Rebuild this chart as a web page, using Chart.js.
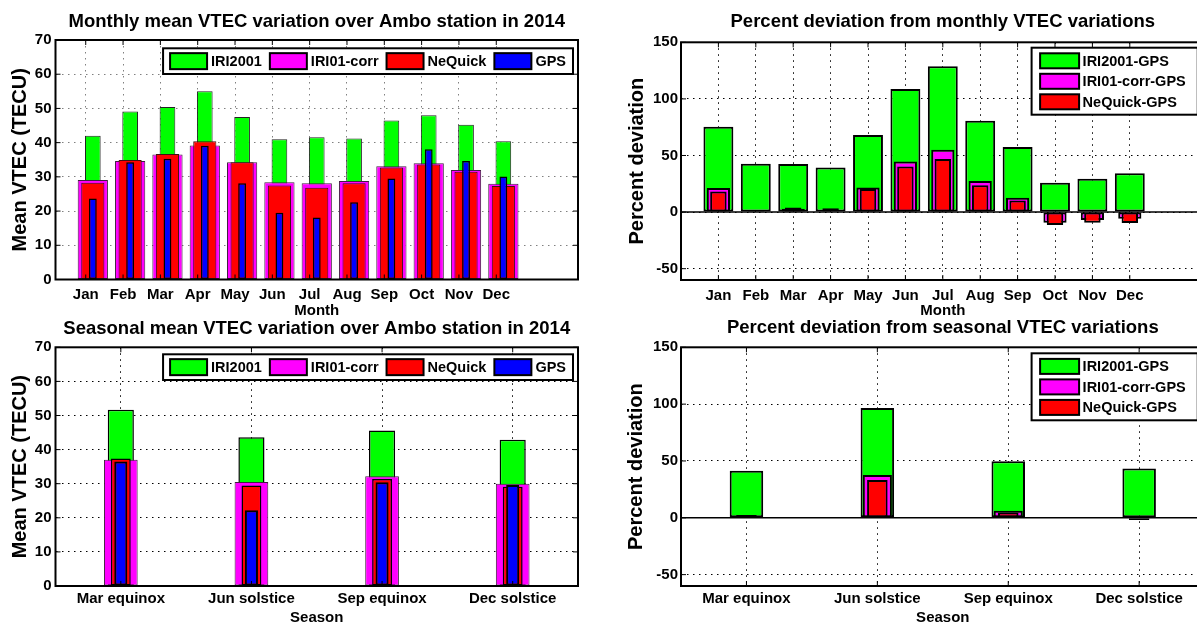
<!DOCTYPE html>
<html>
<head>
<meta charset="utf-8">
<title>VTEC over Ambo station, 2014</title>
<script src="https://cdn.jsdelivr.net/npm/chart.js@4.4.1/dist/chart.umd.min.js"></script>
<style>
  html, body { margin: 0; padding: 0; background: #fff; width: 1197px; height: 627px; overflow: hidden; position: relative; }
  canvas { position: absolute; display: block; }
</style>
</head>
<body>
<canvas id="monthlyVtec" width="582" height="322" style="left:0;top:0;width:582px;height:322px"></canvas>
<canvas id="monthlyDev" width="610" height="322" style="left:600px;top:0;width:610px;height:322px"></canvas>
<canvas id="seasonalVtec" width="582" height="327" style="left:0;top:300px;width:582px;height:327px"></canvas>
<canvas id="seasonalDev" width="610" height="327" style="left:600px;top:300px;width:610px;height:327px"></canvas>
<script>
// ---- categories and tick labels ----
const MONTHS = ['Jan', 'Feb', 'Mar', 'Apr', 'May', 'Jun', 'Jul', 'Aug', 'Sep', 'Oct', 'Nov', 'Dec'];
const SEASONS = ['Mar equinox', 'Jun solstice', 'Sep equinox', 'Dec solstice'];
const VTEC_TICKS = [0, 10, 20, 30, 40, 50, 60, 70];
const DEV_TICKS = [-50, 0, 50, 100, 150];

// ---- monthly mean VTEC (TECU) ----
const monthlyIri2001   = [42.0, 49.1, 50.4, 55.0, 47.5, 41.0, 41.6, 41.2, 46.5, 48.0, 45.2, 40.4];
const monthlyIri01corr = [29.1, 34.6, 36.5, 39.2, 34.3, 28.4, 28.1, 28.8, 33.1, 34.0, 32.0, 28.0];
const monthlyNeQuick   = [28.3, 34.9, 36.7, 40.4, 34.3, 27.5, 26.8, 28.1, 32.7, 33.6, 31.5, 27.3];
const monthlyGps       = [23.7, 34.3, 35.3, 39.1, 28.1, 19.5, 18.1, 22.6, 29.5, 38.1, 34.6, 30.1];

// ---- monthly percent deviation of each model from GPS ----
const devMonthlyIri2001   = [75.3, 42.6, 42.4, 39.4, 68.2, 108.8, 128.8, 80.6, 57.4, 25.9, 29.4, 34.4];
const devMonthlyIri01corr = [21.2, 0.5, 3.0, 0.3, 21.8, 44.7, 55.0, 27.4, 12.7, -9.4, -7.1, -5.9];
const devMonthlyNeQuick   = [18.2, 1.5, 4.0, 3.3, 20.3, 40.3, 46.8, 23.8, 10.3, -11.5, -9.4, -9.7];

// ---- seasonal mean VTEC (TECU) ----
const seasonalIri2001   = [51.7, 43.6, 45.6, 42.9];
const seasonalIri01corr = [37.0, 30.5, 32.2, 30.0];
const seasonalNeQuick   = [37.4, 29.5, 31.4, 29.1];
const seasonalGps       = [36.5, 22.2, 30.4, 29.6];

// ---- seasonal percent deviation of each model from GPS ----
const devSeasonalIri2001   = [41.5, 96.5, 49.7, 43.3];
const devSeasonalIri01corr = [1.4, 37.7, 6.1, 0.5];
const devSeasonalNeQuick   = [2.5, 33.3, 4.7, -2.0];

// ---- styling ----
const FONT = "'Liberation Sans', Arial, Helvetica, sans-serif";
const GREEN = '#00ff00', MAGENTA = '#ff00ff', RED = '#ff0000', BLUE = '#0000ff';

Chart.defaults.font.family = FONT;
Chart.defaults.font.weight = 'bold';
Chart.defaults.color = '#000';

// One bar series; bars of all series share the same slot (overlaid, not grouped).
function barSeries(label, values, color, width, order, borderWidth, borderColor) {
  return {
    label,
    data: values.map((v, i) => ({ x: i + 1, y: v })),
    backgroundColor: color,
    borderColor: borderColor || '#000',
    borderWidth,
    borderSkipped: false,
    grouped: false,
    categoryPercentage: 1,
    barPercentage: width,
    order
  };
}

// Axes box, inward tick marks, zero baseline, title and an in-plot legend.
const matlabAxes = {
  id: 'matlabAxes',
  afterDatasetsDraw(chart, args, o) {
    const { ctx, chartArea: a, scales } = chart;
    ctx.save();
    if (o.baseline) {
      const y0 = scales.y.getPixelForValue(0);
      ctx.strokeStyle = '#000';
      ctx.lineWidth = 1.5;
      ctx.beginPath();
      ctx.moveTo(a.left, y0);
      ctx.lineTo(a.right, y0);
      ctx.stroke();
    }
    ctx.strokeStyle = '#000';
    ctx.lineWidth = 1;
    const tl = 5;
    ctx.beginPath();
    scales.x.ticks.forEach(t => {
      const x = scales.x.getPixelForValue(t.value);
      ctx.moveTo(x, a.bottom); ctx.lineTo(x, a.bottom - tl);
      ctx.moveTo(x, a.top); ctx.lineTo(x, a.top + tl);
    });
    scales.y.ticks.forEach(t => {
      const y = scales.y.getPixelForValue(t.value);
      ctx.moveTo(a.left, y); ctx.lineTo(a.left + tl, y);
      ctx.moveTo(a.right, y); ctx.lineTo(a.right - tl, y);
    });
    ctx.stroke();
    ctx.lineWidth = 2;
    ctx.strokeRect(a.left, a.top, a.right - a.left, a.bottom - a.top);
    ctx.restore();
  },
  afterDraw(chart, args, o) {
    const { ctx, chartArea: a } = chart;
    ctx.save();
    ctx.fillStyle = '#000';
    ctx.font = `bold ${o.titleSize}px ${FONT}`;
    ctx.textAlign = 'center';
    ctx.textBaseline = 'alphabetic';
    ctx.fillText(o.title, (a.left + a.right) / 2, o.titleBaseline);

    const items = chart.data.datasets.map(d => ({ text: d.label, color: d.backgroundColor }));
    ctx.font = `bold ${o.legendSize}px ${FONT}`;
    const widths = items.map(it => ctx.measureText(it.text).width);
    ctx.lineWidth = 2;
    ctx.strokeStyle = '#000';
    ctx.textAlign = 'left';
    ctx.textBaseline = 'middle';
    if (o.legend === 'row') {
      const sw = 37, sh = 16, gapT = 4, gapE = 8, pad = 7, h = 25.7;
      const total = pad * 2 + widths.reduce((s, w) => s + sw + gapT + w, 0) + gapE * (items.length - 1);
      const right = a.right - 5, top = a.top + o.legendDy;
      const left = right - total;
      ctx.fillStyle = '#fff';
      ctx.fillRect(left, top, total, h);
      ctx.strokeRect(left, top, total, h);
      let x = left + pad;
      const cy = top + h / 2;
      items.forEach((it, i) => {
        ctx.fillStyle = it.color;
        ctx.fillRect(x, cy - sh / 2, sw, sh);
        ctx.strokeRect(x, cy - sh / 2, sw, sh);
        ctx.fillStyle = '#000';
        ctx.fillText(it.text, x + sw + gapT, cy + 1);
        x += sw + gapT + widths[i] + gapE;
      });
    } else {
      const sw = 39, sh = 15, pitch = 20.5, h = 67;
      const left = a.right - 173, top = a.top + o.legendDy;
      const w = 51 + Math.max(...widths) + 12;
      ctx.fillStyle = '#fff';
      ctx.fillRect(left, top, w, h);
      ctx.strokeRect(left, top, w, h);
      items.forEach((it, i) => {
        const cy = top + 13.1 + i * pitch;
        ctx.fillStyle = it.color;
        ctx.fillRect(left + 8.5, cy - sh / 2, sw, sh);
        ctx.strokeRect(left + 8.5, cy - sh / 2, sw, sh);
        ctx.fillStyle = '#000';
        ctx.fillText(it.text, left + 51, cy + 1);
      });
    }
    ctx.restore();
  }
};

function buildChart(id, p) {
  return new Chart(document.getElementById(id), {
    type: 'bar',
    data: { datasets: p.datasets },
    options: {
      responsive: false,
      animation: false,
      events: [],
      layout: { padding: { top: p.padTop, right: p.padRight, left: 0, bottom: 0 } },
      plugins: {
        legend: { display: false },
        tooltip: { enabled: false },
        title: { display: false },
        matlabAxes: {
          title: p.title, titleSize: 18.5, titleBaseline: p.titleBaseline,
          legend: p.legend, legendSize: 14.5, legendDy: p.legendDy, baseline: p.baseline
        }
      },
      scales: {
        x: {
          type: 'linear',
          min: p.xMin, max: p.xMax,
          offset: false,
          afterBuildTicks: s => { s.ticks = p.cats.map((c, i) => ({ value: i + 1 + p.tickShift })); },
          afterFit: s => { s.height = p.xHeight; },
          ticks: {
            callback: (v, i) => p.cats[i],
            font: { size: 15, weight: 'bold' },
            color: '#000',
            padding: p.xTickPad,
            maxRotation: 0, autoSkip: false
          },
          grid: { color: p.gridColor, lineWidth: 1, drawTicks: false, offset: false },
          border: { display: false, dash: p.gridDash },
          title: {
            display: true, text: p.xTitle, color: '#000',
            font: { size: 15, weight: 'bold' },
            padding: { top: 0, bottom: p.xTitlePad }
          }
        },
        y: {
          min: p.yMin, max: p.yMax,
          afterBuildTicks: s => { s.ticks = p.yTicks.map(v => ({ value: v })); },
          afterFit: s => { s.width = p.yWidth; },
          ticks: { font: { size: 15, weight: 'bold' }, color: '#000', padding: p.yTickPad },
          grid: { color: p.gridColor, lineWidth: 1, drawTicks: false },
          border: { display: false, dash: p.gridDash },
          title: {
            display: true, text: p.yTitle, color: '#000',
            font: { size: 20, weight: 'bold' },
            padding: { top: p.yTitlePad, bottom: 0 }
          }
        }
      }
    },
    plugins: [matlabAxes]
  });
}

// Monthly mean VTEC
buildChart('monthlyVtec', {
  title: 'Monthly mean VTEC variation over Ambo station in 2014', titleBaseline: 26.5,
  cats: MONTHS, xMin: 0, xMax: 14, tickShift: -0.19,
  yMin: 0, yMax: 70, yTicks: VTEC_TICKS,
  xTitle: 'Month', yTitle: 'Mean VTEC (TECU)',
  padTop: 40, padRight: 4, yWidth: 55.5, xHeight: 42.5,
  xTickPad: 6.5, yTickPad: 4, xTitlePad: 2, yTitlePad: 8,
  gridColor: '#808080', gridDash: [1.5, 4.5],
  legend: 'row', legendDy: 8.3, baseline: false,
  datasets: [
    barSeries('IRI2001', monthlyIri2001, GREEN, 0.42, 4, 1, '#222'),
    barSeries('IRI01-corr', monthlyIri01corr, MAGENTA, 0.81, 3, 1, '#402040'),
    barSeries('NeQuick', monthlyNeQuick, RED, 0.62, 2, 1, '#401010'),
    barSeries('GPS', monthlyGps, BLUE, 0.21, 1, 1.5, '#000')
  ]
});

// Monthly percent deviation
buildChart('monthlyDev', {
  title: 'Percent deviation from monthly VTEC variations', titleBaseline: 26.7,
  cats: MONTHS, xMin: 0, xMax: 14, tickShift: 0,
  yMin: -60, yMax: 150, yTicks: DEV_TICKS,
  xTitle: 'Month', yTitle: 'Percent deviation',
  padTop: 42.3, padRight: 5.4, yWidth: 81, xHeight: 42,
  xTickPad: 6.5, yTickPad: 3, xTitlePad: 2, yTitlePad: 25,
  gridColor: '#000', gridDash: [1.5, 4.5],
  legend: 'column', legendDy: 5.4, baseline: true,
  datasets: [
    barSeries('IRI2001-GPS', devMonthlyIri2001, GREEN, 0.8, 3, 2),
    barSeries('IRI01-corr-GPS', devMonthlyIri01corr, MAGENTA, 0.62, 2, 2),
    barSeries('NeQuick-GPS', devMonthlyNeQuick, RED, 0.44, 1, 2)
  ]
});

// Seasonal mean VTEC
buildChart('seasonalVtec', {
  title: 'Seasonal mean VTEC variation over Ambo station in 2014', titleBaseline: 33.5,
  cats: SEASONS, xMin: 0.5, xMax: 4.5, tickShift: 0,
  yMin: 0, yMax: 70, yTicks: VTEC_TICKS,
  xTitle: 'Season', yTitle: 'Mean VTEC (TECU)',
  padTop: 47.3, padRight: 4, yWidth: 55.5, xHeight: 41,
  xTickPad: 4.2, yTickPad: 4, xTitlePad: 0, yTitlePad: 8,
  gridColor: '#000', gridDash: [1.5, 4.5],
  legend: 'row', legendDy: 7, baseline: false,
  datasets: [
    barSeries('IRI2001', seasonalIri2001, GREEN, 0.2, 4, 1.5),
    barSeries('IRI01-corr', seasonalIri01corr, MAGENTA, 0.258, 3, 1, '#402040'),
    barSeries('NeQuick', seasonalNeQuick, RED, 0.152, 2, 1.5),
    barSeries('GPS', seasonalGps, BLUE, 0.1, 1, 2)
  ]
});

// Seasonal percent deviation
buildChart('seasonalDev', {
  title: 'Percent deviation from seasonal VTEC variations', titleBaseline: 33,
  cats: SEASONS, xMin: 0.5, xMax: 4.5, tickShift: 0,
  yMin: -60, yMax: 150, yTicks: DEV_TICKS,
  xTitle: 'Season', yTitle: 'Percent deviation',
  padTop: 47.3, padRight: 5.4, yWidth: 81, xHeight: 41,
  xTickPad: 4.2, yTickPad: 3, xTitlePad: 0, yTitlePad: 24,
  gridColor: '#000', gridDash: [1.5, 4.5],
  legend: 'column', legendDy: 6, baseline: true,
  datasets: [
    barSeries('IRI2001-GPS', devSeasonalIri2001, GREEN, 0.256, 3, 2),
    barSeries('IRI01-corr-GPS', devSeasonalIri01corr, MAGENTA, 0.222, 2, 2),
    barSeries('NeQuick-GPS', devSeasonalNeQuick, RED, 0.157, 1, 2)
  ]
});
</script>
</body>
</html>
